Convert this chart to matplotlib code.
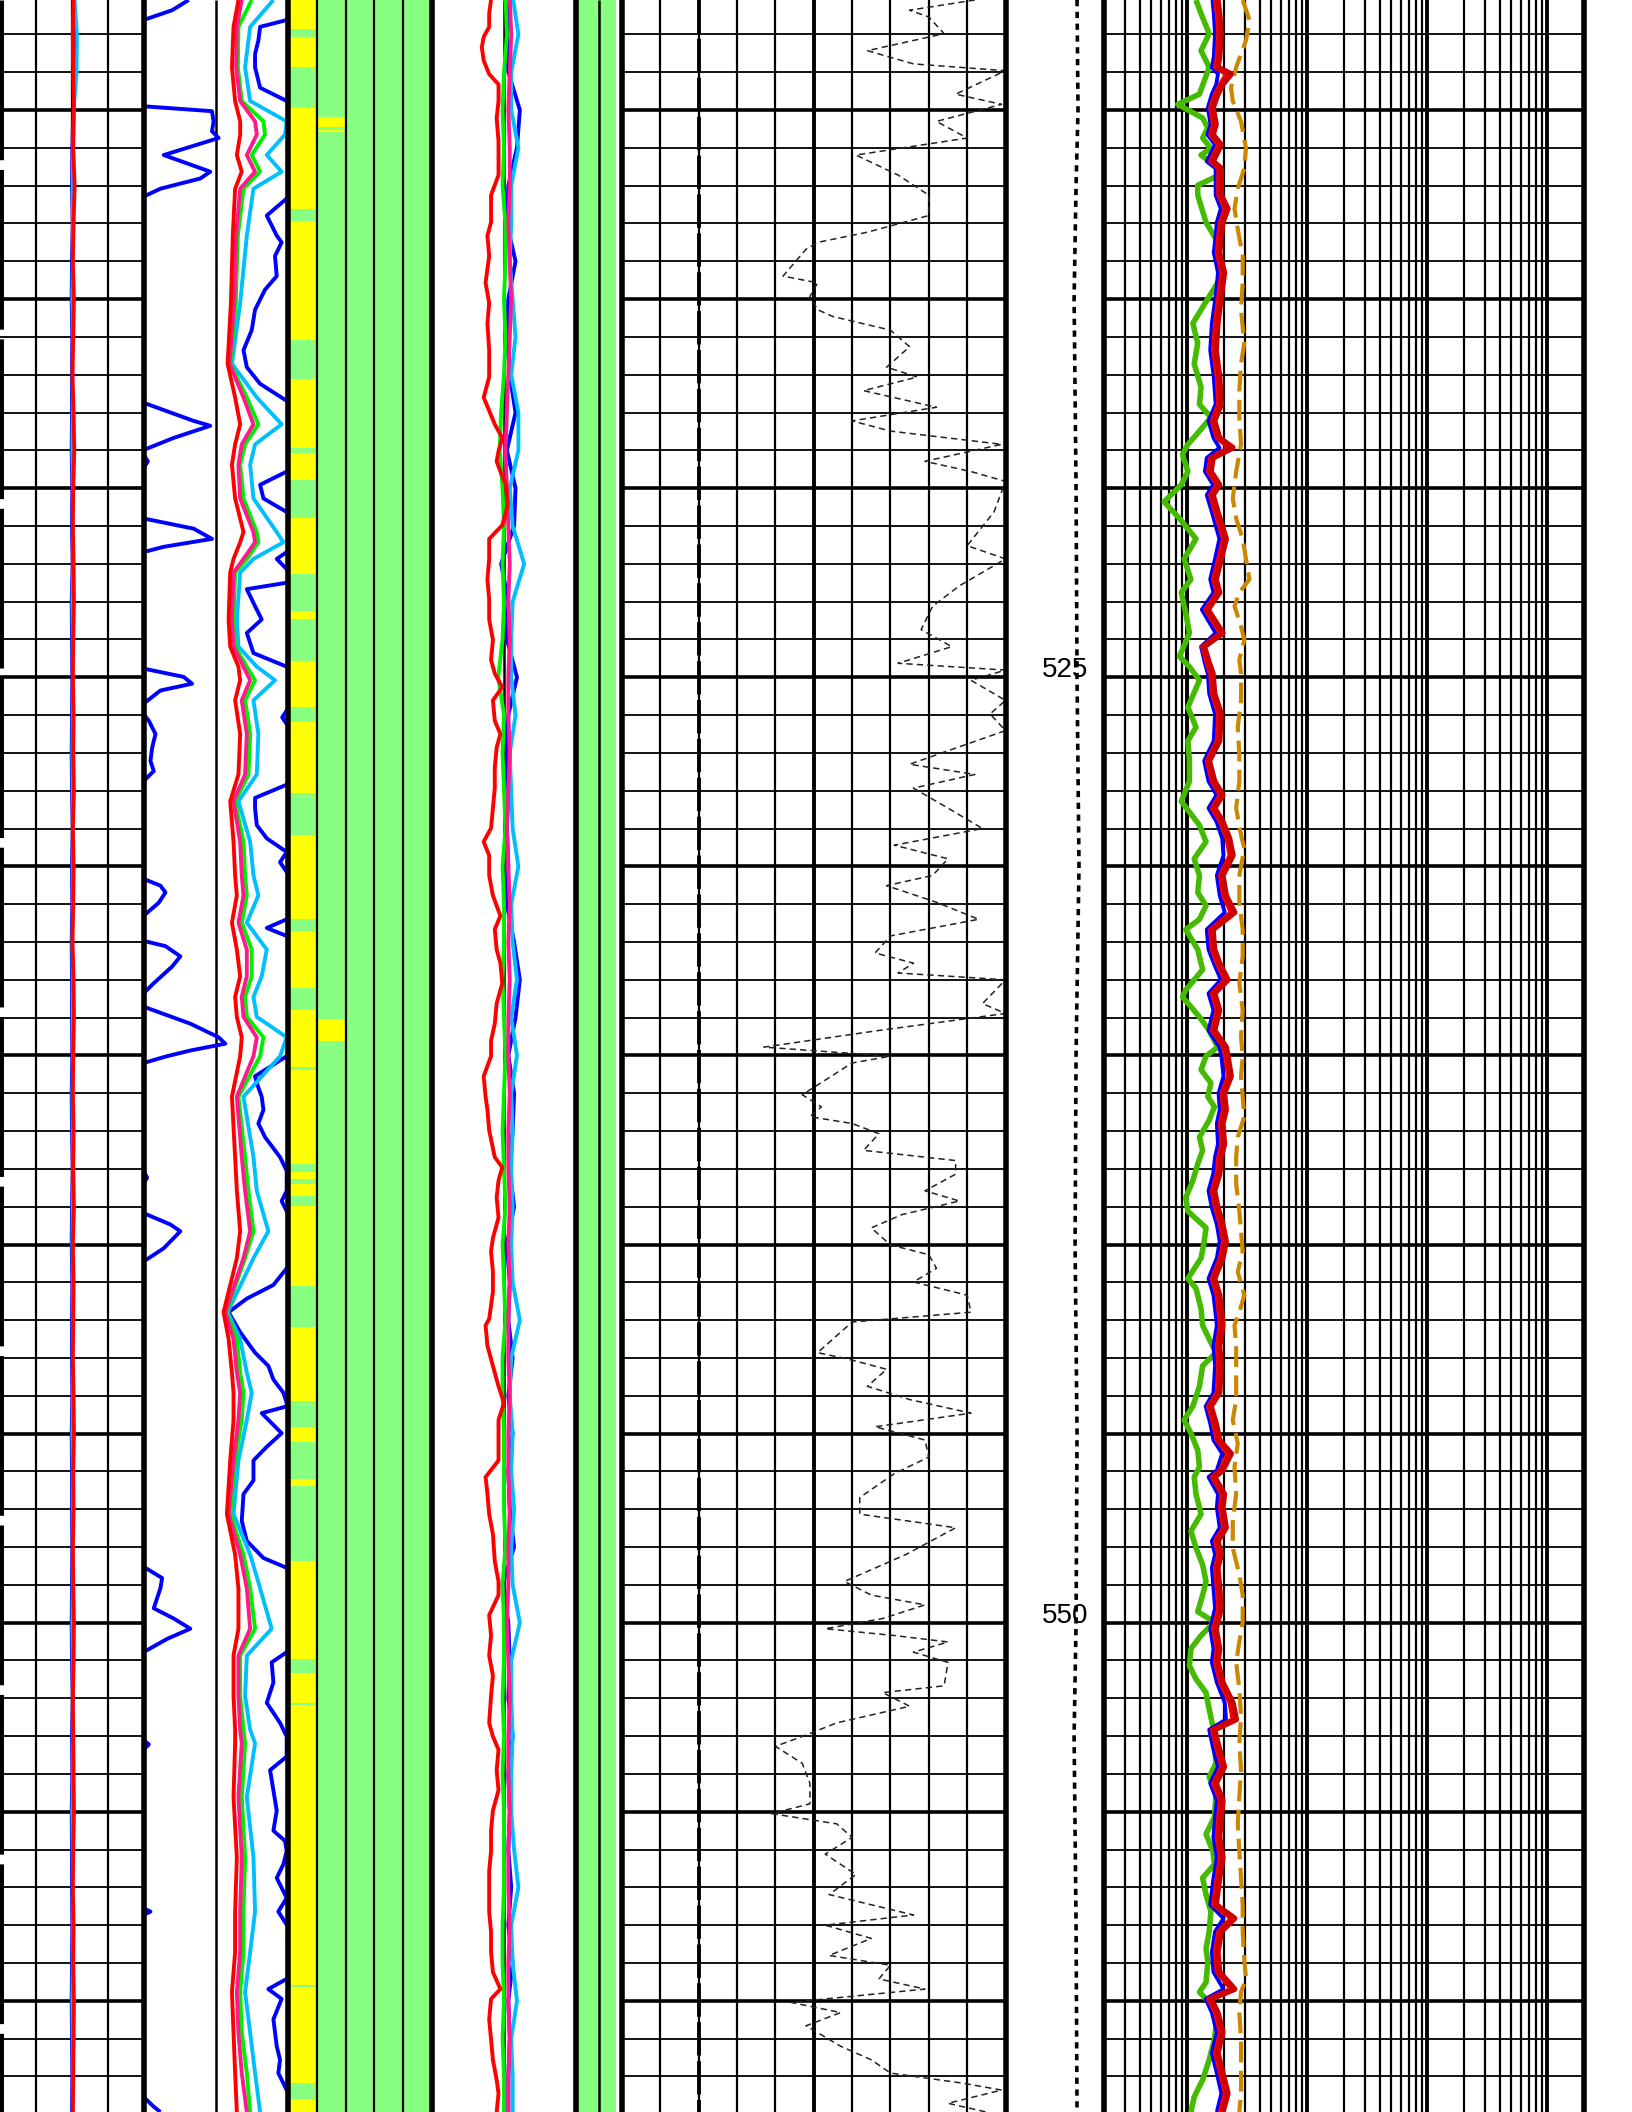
import numpy as np
import matplotlib
matplotlib.use("Agg")
import matplotlib.pyplot as plt

plt.rcParams['font.family'] = ['Liberation Sans', 'DejaVu Sans']
plt.rcParams['lines.scale_dashes'] = False
plt.rcParams['lines.solid_capstyle'] = 'butt'

FIG_W, FIG_H = 1632, 2112
DEPTH_TOP, DEPTH_BOT = 507.09, 562.94
depth_labels = [525, 550]

# ---------------- regular sampling grid (1 unit) ----------------
grid1 = np.arange(507.0, 563.5, 1.0)

# ---------------- Track 1 (0-4) ----------------
t1_red = [2.05,2.03,2.04,2.06,2.04,2.08,2.05,2.03,2.06,2.04,2.02,2.05,2.07,2.04,2.03,2.05,2.06,2.04,2.03,2.05,
          2.04,2.06,2.03,2.05,2.04,2.02,2.05,2.06,2.04,2.03,2.05,2.04,2.06,2.03,2.05,2.04,2.03,2.05,2.06,2.04,
          2.05,2.03,2.04,2.06,2.05,2.03,2.04,2.05,2.06,2.04,2.03,2.05,2.04,2.06,2.05,2.04,2.03]
t1_blue = [2.06,2.12,2.10,2.03,2.01,2.00,2.02,2.00,1.99,2.01,2.00,2.00,1.99,2.01,2.00,2.02,1.99,2.00,2.01,2.00,
           1.99,2.00,2.02,2.00,2.01,1.99,2.00,2.00,2.01,1.99,2.00,2.02,2.00,1.99,2.01,2.00,2.00,2.01,1.99,2.00,
           2.00,2.01,2.00,1.99,2.00,2.02,2.00,2.01,1.99,2.00,2.00,2.01,2.00,1.99,2.00,2.01,2.00]
t1_cyan = [2.08,2.15,2.14,2.06,2.03,2.02,2.03,2.02,2.01,2.03,2.02,2.02,2.01,2.03,2.02,2.04,2.01,2.02,2.03,2.02,
           2.01,2.02,2.04,2.02,2.03,2.01,2.02,2.02,2.03,2.01,2.02,2.04,2.02,2.01,2.03,2.02,2.02,2.03,2.01,2.02,
           2.02,2.03,2.02,2.01,2.02,2.04,2.02,2.03,2.01,2.02,2.02,2.03,2.02,2.01,2.02,2.03,2.02]

# ---------------- Track 2 (0-10) ----------------
t2_spike_depth = [507.09,507.36,507.62,509.90,510.03,510.30,510.56,510.74,511.19,511.63,511.81,512.08,512.29,
                  517.74,518.22,518.35,518.67,518.99,519.11,519.29,519.47,520.80,521.07,521.34,521.55,521.69,
                  524.77,524.99,525.17,525.35,525.70,525.97,526.15,526.50,526.86,527.21,527.48,527.75,
                  530.33,530.51,530.69,530.96,531.31,531.97,532.11,532.38,532.65,533.09,533.36,
                  533.71,534.16,534.52,534.69,534.87,535.02,535.20,538.05,538.23,538.40,
                  539.17,539.47,539.65,540.10,540.45,548.52,548.82,549.09,549.62,549.89,550.16,550.43,550.78,
                  553.10,553.22,553.36,557.55,557.64,557.73,562.54,562.80,562.94]
t2_spike_val = [3.13,1.98,0.0,0.0,4.74,4.85,4.74,5.20,1.40,4.62,3.93,1.17,0.0,
                0.0,3.47,4.62,2.09,0.0,0.0,0.30,0.0,0.0,3.47,4.74,1.40,0.0,
                0.0,2.78,3.36,1.17,0.0,0.0,0.37,0.83,0.60,0.48,0.71,0.0,
                0.0,1.17,1.52,1.06,0.0,0.0,1.52,2.55,1.98,0.71,0.0,
                0.0,3.24,5.20,5.66,3.24,1.63,0.0,0.0,0.25,0.0,
                0.0,1.86,2.55,1.40,0.0,0.0,1.29,1.17,0.71,2.09,3.24,1.63,0.0,
                0.0,0.37,0.0,0.0,0.48,0.0,0.0,0.71,1.17]

t2_depth = [507.09,507.80,508.87,509.76,510.30,510.65,511.19,511.63,512.08,513.32,515.10,516.71,517.60,518.31,
            518.84,519.38,520.27,521.16,521.43,521.87,522.23,523.47,524.19,524.72,525.08,525.61,526.50,527.57,
            528.28,529.35,530.24,530.77,531.49,532.20,532.91,533.45,533.98,534.52,535.02,
            536.09,537.69,538.58,539.65,540.36,541.79,542.50,543.39,543.92,544.64,545.71,547.13,548.20,549.09,
            550.16,550.87,551.94,552.83,553.19,554.61,556.21,557.64,558.71,559.77,560.84,561.91,562.94]
t2_red = [6.57,6.23,6.12,6.34,6.69,6.69,6.46,6.80,6.34,6.18,6.05,5.82,6.34,6.69,6.34,6.12,6.34,6.92,6.69,6.23,
          6.00,5.89,6.00,6.57,6.69,6.34,6.69,6.57,6.00,6.23,6.34,6.46,6.12,6.46,6.69,6.34,6.46,6.80,6.69,
          6.12,6.34,6.46,6.69,6.46,5.54,5.89,6.12,6.23,6.23,6.00,5.77,6.34,6.57,6.57,6.23,6.23,6.34,6.34,6.23,
          6.46,6.34,6.34,6.12,6.23,6.34,6.46]
t2_pink = [6.80,6.46,6.41,6.69,7.72,7.84,7.15,7.72,6.69,6.41,6.28,5.95,6.92,7.61,6.80,6.57,6.69,7.61,7.72,6.92,
           6.23,6.12,6.23,6.92,7.38,6.80,7.15,7.03,6.23,6.69,6.80,6.92,6.57,7.15,7.15,6.80,6.92,7.84,7.61,
           6.46,6.80,7.03,7.38,6.92,5.66,6.23,6.46,6.69,6.57,6.23,5.89,6.69,7.15,7.38,6.57,6.57,6.69,6.80,6.57,
           6.80,6.69,6.69,6.46,6.57,6.80,7.15]
t2_green = [7.49,6.57,6.53,6.80,8.30,8.41,7.49,8.07,6.92,6.53,6.39,6.00,7.15,7.95,7.03,6.69,6.92,7.84,7.95,7.15,
            6.34,6.23,6.34,7.15,7.72,7.03,7.38,7.26,6.34,6.92,7.03,7.15,6.80,7.49,7.49,7.03,7.15,8.30,8.07,
            6.57,7.03,7.26,7.61,7.03,5.72,6.46,6.69,6.92,6.80,6.34,6.00,6.92,7.38,7.72,6.69,6.69,6.92,7.03,6.80,
            7.03,6.92,6.92,6.69,6.80,7.15,7.38]
t2_cyan = [8.99,7.38,7.03,7.38,9.91,9.79,8.53,9.56,7.61,7.15,6.69,6.12,7.84,9.56,7.72,7.38,7.61,9.22,9.68,7.61,
           6.69,6.46,6.57,7.84,9.10,7.61,7.95,7.84,6.57,7.38,7.61,7.95,7.15,8.53,8.18,7.61,7.84,9.91,9.45,
           6.92,7.61,7.84,8.64,7.61,5.82,6.69,7.15,7.49,7.15,6.57,6.23,7.38,8.07,8.87,7.15,7.03,7.38,7.72,7.15,
           7.61,7.72,7.38,7.03,7.38,7.72,8.07]

t2_blue_depth = [507.09,507.62,507.80,508.16,508.52,508.87,509.41,509.76,509.90,512.25,512.34,512.79,513.32,513.50,
                 513.86,514.39,514.75,515.28,515.82,516.35,516.80,517.24,517.69,517.80,519.45,519.56,519.91,520.27,
                 520.63,520.75,521.60,521.69,521.87,522.14,522.30,522.40,522.50,522.67,523.12,523.47,523.83,524.36,
                 524.72,524.85,525.80,525.88,526.06,526.24,526.35,527.75,527.84,528.19,528.46,528.91,529.26,529.62,
                 529.89,530.15,530.25,531.30,531.40,531.63,531.84,531.95,534.90,535.02,535.55,535.73,536.09,536.44,
                 536.80,537.16,537.69,538.05,538.58,538.85,539.12,539.25,540.50,540.63,541.07,541.43,541.79,542.32,
                 542.86,543.21,543.57,543.92,544.19,544.28,544.46,544.99,545.35,545.71,546.24,546.60,547.31,547.84,
                 548.29,548.55,548.65,550.70,550.78,551.05,551.58,552.12,552.65,553.01,553.54,553.90,554.43,554.97,
                 555.50,555.77,556.04,556.39,556.75,557.28,557.64,557.99,558.10,559.30,559.42,559.69,559.95,560.49,
                 560.84,561.20,561.56,561.91,562.36,562.50,562.94]
t2_blue_val = [10.4,9.91,8.07,7.95,7.72,7.72,8.07,9.91,10.4,10.4,9.91,8.53,9.22,9.56,
               9.10,9.22,8.41,7.72,7.49,6.92,7.15,8.07,9.91,10.4,10.4,9.91,8.07,8.30,
               9.91,10.4,10.4,9.91,9.22,9.91,10.4,10.4,9.91,7.15,7.72,8.18,7.15,7.61,
               9.91,10.4,10.4,9.91,9.60,9.91,10.4,10.4,9.91,7.72,7.72,7.84,8.53,9.91,
               9.45,9.91,10.4,10.4,9.91,8.53,9.91,10.4,10.4,9.91,7.72,7.84,8.18,8.30,
               7.95,8.41,9.45,9.91,9.91,9.56,9.91,10.4,10.4,9.91,8.99,7.15,5.89,6.69,
               7.72,8.64,8.99,9.68,9.91,9.91,8.18,9.56,8.53,7.61,7.61,6.92,6.80,7.15,
               8.30,9.91,10.4,10.4,9.91,8.87,8.99,8.53,9.45,9.91,9.91,8.76,8.99,9.22,
               8.99,9.79,9.91,9.68,9.22,9.91,9.33,9.91,10.4,10.4,9.91,8.64,9.56,8.99,
               9.10,9.22,9.45,9.33,9.91,10.4,10.4]

# ---------------- Track 3 lithology (5 columns) ----------------
lith_col1_top = [507.09,508.07,509.94,512.93,517.10,519.08,520.80,523.26,524.58,526.18,529.17,531.70,533.80,
                 535.38,538.08,538.40,538.97,542.18,544.82,546.20,548.38,551.32,552.18,559.63,562.59]
lith_col1_base = [507.86,508.87,512.61,516.08,518.93,519.79,522.26,523.47,525.79,528.07,531.40,533.23,535.30,
                  537.87,538.28,538.71,541.11,544.14,545.22,546.38,550.96,552.12,559.57,562.18,562.94]
lith_col2_top = [510.18,510.52,534.04]
lith_col2_base = [510.45,510.58,534.62]

# ---------------- Track 4 (0-10) ----------------
t4_red_depth = [507.09,507.45,507.80,508.07,508.34,508.69,509.05,509.32,509.76,510.21,510.83,511.19,511.72,512.25,
                512.97,513.32,513.86,514.57,515.10,515.64,516.35,517.06,517.60,517.95,518.31,518.67,519.02,519.29,
                519.56,519.91,520.45,520.98,521.34,521.87,522.41,522.94,523.47,524.01,524.54,524.90,525.26,525.61,
                526.15,526.50,526.86,527.39,527.93,528.46,528.99,529.35,529.71,530.24,530.77,531.31,531.67,532.20,
                532.56,533.09,533.63,534.16,534.61,
                535.02,535.55,536.09,536.44,536.98,537.69,537.96,538.31,538.76,539.29,539.83,540.18,540.72,541.25,
                541.97,542.14,542.68,543.21,543.75,544.19,544.64,545.17,545.71,546.15,546.60,547.13,547.66,548.38,
                548.91,549.27,549.80,550.34,550.87,551.40,551.94,552.65,553.01,553.36,553.90,554.43,554.97,555.50,
                556.04,556.57,557.10,557.64,558.17,558.71,559.24,559.69,559.95,560.49,561.02,561.56,562.09,562.45,
                562.94]
t4_red = [4.10,3.97,3.97,3.59,3.46,3.59,3.97,4.62,4.62,4.49,4.62,4.62,4.62,4.10,
          4.10,3.85,3.97,3.72,3.97,3.85,3.97,3.97,3.59,3.97,4.36,4.88,4.62,4.49,
          4.75,5.13,5.26,4.88,3.97,3.97,3.85,3.97,3.97,4.23,4.10,4.36,4.88,4.23,
          4.36,4.75,4.49,4.36,4.36,4.23,4.10,3.59,3.97,3.97,4.23,4.75,4.36,4.49,
          4.75,4.88,4.49,4.36,4.10,
          4.10,3.59,3.72,3.85,3.97,4.36,4.88,4.62,4.49,4.62,4.23,4.10,4.23,4.23,
          3.97,3.72,3.85,4.23,4.62,5.00,4.62,4.62,4.62,3.72,3.85,3.97,4.23,4.36,
          4.62,4.62,3.97,4.10,3.97,4.23,4.10,3.97,4.23,4.62,4.49,4.62,4.23,4.10,
          4.10,3.97,3.97,3.97,4.10,4.10,4.23,4.75,4.10,3.97,4.10,4.23,4.49,4.62,
          4.49]
t4_green = [5.1,5.2,5.0,4.9,5.0,4.9,5.1,5.1,5.0,5.1,5.0,4.8,4.7,4.9,5.0,4.9,5.0,4.9,4.6,5.0,
            4.9,5.0,5.1,4.9,5.0,5.0,4.9,5.0,5.1,5.0,4.9,5.0,5.1,4.9,5.0,5.1,4.9,4.9,5.0,5.0,
            5.0,5.1,4.9,5.0,5.0,4.9,5.0,4.9,5.0,5.0,5.0,4.9,4.9,5.0,4.9,5.0,5.0]
t4_pink = [5.4,5.5,5.4,5.3,5.4,5.4,5.3,5.4,5.5,5.4,5.3,5.2,5.1,5.2,5.3,5.4,5.3,5.4,5.3,5.3,
           5.4,5.3,5.2,5.3,5.4,5.3,5.4,5.3,5.3,5.4,5.3,5.3,5.4,5.3,5.4,5.3,5.3,5.4,5.3,5.3,
           5.4,5.3,5.3,5.2,5.3,5.4,5.3,5.3,5.4,5.3,5.3,5.4,5.3,5.3,5.4,5.3,5.3]
t4_cyan = [5.6,6.0,5.5,5.5,6.0,5.5,5.5,5.4,5.6,5.8,5.5,6.0,6.0,5.4,5.6,6.4,5.6,5.5,5.5,5.8,
           5.4,5.5,5.6,6.0,5.5,5.6,5.9,5.5,5.9,5.5,5.6,5.5,5.6,5.5,5.6,6.1,5.5,5.4,5.6,5.5,
           5.7,5.5,5.6,6.1,5.5,5.5,5.6,5.5,5.5,5.7,6.0,5.5,5.6,5.9,5.5,5.6,5.6]
t4_blue = [5.4,5.2,5.3,6.1,5.9,5.3,5.2,5.8,5.3,5.2,5.4,5.8,5.2,5.8,5.7,4.8,5.3,5.2,5.9,5.3,
           5.2,5.3,5.2,5.3,5.2,5.7,6.1,5.8,5.3,5.7,5.6,5.4,5.7,5.2,5.4,5.3,5.6,5.3,5.6,5.3,
           5.4,5.7,4.9,5.3,5.4,5.3,5.6,5.3,5.4,5.3,5.5,5.3,5.6,5.3,5.4,5.3,5.3]

# ---------------- Track 5 (fill fraction) ----------------
t5_depth = [507.09, 562.94]
t5_val = [0.87, 0.87]

# ---------------- Track 6 (0-10) ----------------
t6_const_depth = [507.09, 562.94]
t6_const_val = [2.0, 2.0]
t6_depth = [507.09,507.36,507.54,507.98,508.43,508.78,508.96,509.58,509.85,510.30,510.74,511.19,511.72,512.25,
            512.79,513.23,513.50,513.68,514.39,514.57,514.93,515.28,515.46,515.82,516.26,516.80,517.06,517.42,
            517.86,518.22,518.49,518.84,519.29,519.56,519.82,520.63,521.52,521.87,522.58,523.12,523.74,524.19,
            524.63,524.81,525.08,525.61,525.97,526.41,527.30,527.57,527.93,528.46,529.00,529.44,529.80,530.24,
            530.51,530.95,531.40,531.84,532.29,532.56,532.82,533.00,533.63,533.89,534.34,534.78,
            535.02,535.20,536.04,536.36,536.62,536.80,537.07,537.51,537.78,538.14,538.58,538.85,539.21,539.56,
            540.01,540.27,540.63,540.99,541.34,541.79,542.05,542.86,543.03,543.30,543.75,544.10,544.46,544.82,
            545.17,545.62,546.06,546.69,547.13,547.49,548.20,548.91,549.27,549.53,549.89,550.16,550.34,550.51,
            550.78,551.05,551.67,551.85,552.21,552.65,553.01,553.27,553.72,554.25,554.79,555.05,555.32,555.68,
            556.12,556.66,557.19,557.73,558.00,558.35,558.80,559.06,559.42,559.69,560.04,560.31,560.66,561.20,
            561.56,561.91,562.18,562.36,562.71,562.94]
t6_val = [9.2,7.5,8.0,8.4,6.4,7.6,10.0,8.7,9.9,8.2,9.0,6.1,7.2,8.0,
          8.0,6.4,5.1,4.8,4.2,5.1,4.9,5.1,5.5,7.0,7.5,6.9,7.7,6.3,
          8.2,6.0,7.0,9.9,7.9,9.1,10.0,9.7,9.0,10.0,8.8,8.1,7.8,8.6,
          7.2,10.0,9.1,10.0,9.6,10.0,7.5,9.2,7.6,8.5,9.4,7.1,8.5,8.1,
          6.9,8.2,9.3,7.0,6.6,7.6,7.2,10.0,9.4,10.0,6.7,3.7,
          7.0,6.0,4.7,5.2,4.9,6.0,6.7,6.3,8.7,8.7,7.9,8.8,7.3,6.5,
          7.0,8.0,8.2,7.6,9.0,9.1,6.0,5.1,5.9,6.9,6.4,7.5,9.1,6.6,
          7.9,8.0,7.1,6.2,6.2,8.7,7.4,5.8,6.5,7.9,6.8,5.3,7.1,8.5,
          7.6,8.5,8.4,6.8,7.5,5.6,4.7,4.0,4.7,4.9,4.9,3.9,5.6,6.0,
          5.3,6.1,5.4,7.6,5.3,6.5,5.4,7.0,6.7,7.9,4.4,5.7,4.8,5.7,
          6.5,7.0,8.9,9.9,8.5,9.5]

# ---------------- Depth track dotted curve (0-1) ----------------
dtrk_depth = [507.09,510.0,512.0,515.0,520.0,525.0,530.0,535.0,540.0,545.0,550.0,553.0,558.0,562.94]
dtrk_val = [0.73,0.74,0.72,0.70,0.72,0.73,0.75,0.72,0.71,0.73,0.72,0.70,0.72,0.73]

# ---------------- Track 7 (log 0.2-2000) ----------------
t7_green_depth = [507.09,507.45,507.98,508.43,508.87,509.58,509.85,510.21,510.47,510.74,511.01,511.19,511.45,511.72,
                  511.99,512.25,512.97,513.41,513.86,514.30,514.57,514.93,515.64,516.17,516.71,517.33,517.78,518.13,
                  518.49,518.84,519.11,519.56,519.91,520.36,520.80,521.34,521.87,522.41,522.76,523.30,523.83,524.45,
                  524.72,525.08,525.79,526.32,526.68,527.21,527.75,528.28,528.91,529.35,529.80,530.24,530.69,531.04,
                  531.40,531.67,532.20,532.73,533.27,533.45,533.98,534.34,534.78,
                  535.02,535.38,535.73,536.09,536.36,536.71,537.16,537.51,537.87,538.31,538.76,539.12,539.56,539.92,
                  540.36,540.90,541.16,541.70,542.14,542.50,542.86,543.21,543.75,544.28,544.64,544.99,545.44,545.88,
                  546.15,546.60,547.13,547.58,548.02,548.47,548.91,549.27,549.71,549.98,550.34,550.69,551.14,551.49,
                  551.85,552.29,552.74,553.19,553.72,554.08,554.52,555.14,555.59,556.04,556.39,556.75,557.19,557.64,
                  558.17,558.62,558.97,559.51,559.77,560.13,560.66,561.02,561.56,562.09,562.54,562.94]
t7_green = [1.18,1.30,1.52,1.30,1.52,1.26,0.83,1.34,1.48,1.34,1.57,1.30,1.68,1.85,
            1.22,1.22,1.43,1.73,1.79,1.97,1.79,1.52,1.11,1.22,1.14,1.30,1.26,1.57,
            1.26,1.01,0.91,1.01,0.89,0.64,0.86,1.18,0.94,1.07,0.89,0.97,1.04,0.86,
            1.04,1.26,1.01,1.18,1.01,1.04,1.04,0.89,1.26,1.43,1.14,1.26,1.22,1.43,
            1.26,0.97,1.22,1.34,0.97,0.91,1.26,1.52,1.79,
            1.43,1.30,1.57,1.48,1.68,1.52,1.26,1.34,1.22,1.11,0.97,1.01,1.43,1.38,
            1.30,1.01,1.18,1.30,1.34,1.52,1.73,1.34,1.26,1.11,0.94,1.07,1.22,1.26,
            1.14,1.18,1.30,1.07,1.18,1.34,1.43,1.34,1.22,1.68,1.30,1.07,1.04,1.18,
            1.43,1.52,1.63,1.68,1.73,1.52,1.73,1.68,1.43,1.63,1.68,1.34,1.43,1.57,
            1.52,1.43,1.48,1.43,1.26,1.63,1.73,1.68,1.52,1.34,1.14,1.07]

t7_res_depth = [507.09,507.45,507.98,508.60,508.87,509.05,509.32,509.58,509.94,510.38,510.65,510.92,511.36,511.54,
                512.25,512.61,512.97,513.32,513.77,514.30,514.93,515.64,516.35,517.06,517.78,518.22,518.67,518.93,
                519.20,519.56,519.91,520.18,520.63,521.34,521.87,522.41,522.76,523.21,523.83,524.19,524.63,524.90,
                525.43,525.97,526.68,527.21,527.75,528.11,528.46,528.82,529.26,529.71,530.24,530.77,531.22,531.67,
                532.20,532.56,533.00,533.36,533.80,534.34,534.78,
                535.02,535.55,536.00,536.44,536.80,537.34,537.69,538.14,538.58,539.03,539.47,539.92,540.36,540.90,
                541.34,541.70,542.14,542.68,543.21,543.92,544.28,544.73,545.17,545.53,545.97,546.15,546.60,546.95,
                547.49,547.84,548.20,548.55,549.09,549.62,550.16,550.69,551.05,551.58,552.12,552.56,552.83,553.36,
                553.81,554.25,554.70,555.14,555.68,556.21,556.75,557.46,557.82,558.17,558.71,559.24,559.69,559.95,
                560.31,560.84,561.38,561.91,562.45,562.94]
t7_deep = [1.79,1.85,1.91,1.85,1.79,2.31,1.97,1.79,1.63,1.73,1.63,1.91,1.63,1.91,
           1.91,2.17,1.97,1.91,1.85,2.03,1.91,1.79,1.73,1.85,1.91,1.68,1.85,2.39,
           1.63,1.57,1.85,1.63,1.79,2.10,1.91,1.73,1.85,1.48,1.97,1.38,1.52,1.63,
           1.68,1.91,1.85,1.52,1.68,1.97,1.68,1.97,2.24,2.39,1.97,2.10,2.47,1.63,
           1.68,1.85,2.17,1.68,1.85,1.68,2.10,
           2.17,2.31,2.03,2.10,1.97,2.03,1.91,1.85,1.68,1.79,1.97,2.10,1.97,1.68,
           1.85,1.91,1.97,1.85,1.91,1.85,1.57,1.73,1.85,2.31,1.97,1.68,2.03,1.97,
           2.10,1.79,1.91,1.79,1.85,1.91,1.73,1.85,1.79,1.97,2.39,2.55,1.68,1.85,
           2.03,1.73,1.97,1.91,1.85,1.97,1.85,1.73,2.47,1.91,1.79,1.85,2.47,1.57,
           1.79,1.97,1.79,1.97,2.17,1.97]
t7_medium = [1.70,1.76,1.81,1.76,1.70,2.10,1.87,1.70,1.55,1.64,1.55,1.81,1.55,1.81,
             1.81,2.05,1.87,1.81,1.76,1.92,1.81,1.70,1.64,1.76,1.81,1.60,1.76,2.20,
             1.55,1.49,1.76,1.55,1.70,1.99,1.81,1.64,1.76,1.41,1.87,1.33,1.45,1.55,
             1.60,1.81,1.76,1.45,1.60,1.87,1.60,1.87,2.12,2.25,1.87,1.99,2.30,1.55,
             1.60,1.76,2.05,1.60,1.76,1.60,1.99,
             2.06,2.18,1.93,1.99,1.87,1.93,1.81,1.76,1.60,1.70,1.87,1.99,1.87,1.60,
             1.76,1.81,1.87,1.76,1.81,1.76,1.49,1.64,1.76,2.15,1.87,1.60,1.93,1.87,
             1.99,1.70,1.81,1.70,1.76,1.81,1.64,1.76,1.70,1.87,2.25,2.38,1.60,1.76,
             1.93,1.64,1.87,1.81,1.76,1.87,1.76,1.64,2.30,1.81,1.70,1.76,2.30,1.49,
             1.70,1.87,1.70,1.87,2.06,1.87]
t7_shallow = [1.62,1.66,1.70,1.66,1.60,1.80,1.74,1.60,1.48,1.56,1.47,1.70,1.45,1.72,
              1.72,1.90,1.76,1.72,1.66,1.80,1.72,1.60,1.55,1.66,1.72,1.50,1.65,1.85,
              1.45,1.40,1.64,1.45,1.60,1.85,1.70,1.55,1.65,1.32,1.72,1.30,1.40,1.48,
              1.52,1.70,1.66,1.38,1.50,1.75,1.50,1.75,1.95,2.00,1.76,1.86,2.05,1.45,
              1.50,1.66,1.90,1.50,1.65,1.50,1.85,
              1.92,2.00,1.82,1.86,1.76,1.80,1.70,1.64,1.50,1.60,1.76,1.86,1.76,1.50,
              1.65,1.70,1.76,1.65,1.70,1.65,1.42,1.55,1.65,1.95,1.76,1.50,1.80,1.76,
              1.86,1.60,1.70,1.60,1.65,1.70,1.55,1.65,1.60,1.76,2.05,2.10,1.52,1.65,
              1.80,1.55,1.76,1.70,1.65,1.76,1.65,1.55,2.00,1.70,1.60,1.65,2.00,1.42,
              1.60,1.76,1.60,1.76,1.92,1.76]

t7_orange_depth = [507.09,507.62,508.16,508.87,509.41,509.76,510.30,511.01,511.54,512.08,512.61,513.15,513.86,514.57,
                   515.28,516.17,516.71,517.42,518.13,518.84,519.56,520.27,520.80,521.34,521.87,522.41,522.76,523.12,
                   523.65,524.01,524.54,524.90,525.61,526.32,527.04,527.75,528.46,529.17,529.53,530.24,530.95,531.67,
                   532.38,533.09,533.80,534.52,
                   535.02,535.55,536.09,536.62,537.16,537.69,538.40,539.12,539.65,540.18,540.72,541.34,541.79,542.14,
                   542.68,543.57,544.10,544.64,545.26,545.88,546.60,547.31,548.02,548.73,549.27,549.98,550.51,551.05,
                   551.76,552.47,553.19,553.90,554.61,555.32,556.04,556.75,557.46,558.17,558.89,559.42,559.77,560.31,
                   561.02,561.73,562.45,562.94]
t7_orange = [2.89,3.29,3.08,2.55,2.31,2.39,2.80,3.08,2.98,2.63,2.47,2.63,2.89,2.89,
             2.80,2.98,2.80,2.71,2.71,2.80,2.55,2.39,2.55,2.89,3.08,3.29,2.71,2.47,
             2.80,2.98,2.71,2.80,2.80,2.63,2.71,2.71,2.55,2.80,2.98,2.71,2.71,2.89,
             2.89,2.71,2.89,2.80,
             2.89,2.80,2.89,2.98,2.63,2.55,2.55,2.71,2.80,2.89,2.63,2.98,2.71,2.47,
             2.55,2.55,2.55,2.39,2.63,2.47,2.55,2.39,2.39,2.71,2.89,2.89,2.71,2.55,
             2.71,2.80,2.71,2.80,2.71,2.63,2.71,2.80,2.89,2.89,2.98,3.08,2.80,2.71,
             2.80,2.80,2.80,2.71]

# ---------------- styling ----------------
GREEN_FILL = '#88ff80'
YELLOW = '#ffff00'
C_RED = '#ff0000'
C_PINK = '#ff1a8c'
C_GREEN = '#00ee00'
C_CYAN = '#00bfff'
C_BLUE = '#0000ff'
LW_CURVE = 2.8

fig = plt.figure(figsize=(FIG_W / 100, FIG_H / 100), dpi=100)

def track(x0, x1, xlim, log=False):
    ax = fig.add_axes([x0 / FIG_W, 0, (x1 - x0) / FIG_W, 1])
    if log:
        ax.set_xscale('log')
    ax.set_xlim(*xlim)
    ax.set_ylim(DEPTH_BOT, DEPTH_TOP)
    ax.axis('off')
    return ax

def hgrid(ax):
    for d in range(508, 563):
        ax.axhline(d, color='black', lw=2.6 if d % 5 == 0 else 1.3, zorder=1)

# Track boundaries in pixels
B = [0, 143.5, 288, 432, 576, 622, 1005.5, 1103.5, 1583.5]

# --- Track 1
ax1 = track(B[0], B[1], (0, 4))
hgrid(ax1)
for v in (1, 2, 3):
    ax1.axvline(v, color='black', lw=1.6, zorder=1)
ax1.plot(t1_blue, grid1, color=C_BLUE, lw=2.4, zorder=3)
ax1.plot(t1_cyan, grid1, color=C_CYAN, lw=2.4, zorder=3)
ax1.plot(t1_red, grid1, color=C_RED, lw=LW_CURVE, zorder=4)

# --- Track 2
ax2 = track(B[1], B[2], (0, 10))
ax2.axvline(5, color='black', lw=1.8, zorder=1)
ax2.plot(t2_spike_val, t2_spike_depth, color=C_BLUE, lw=LW_CURVE, zorder=3)
ax2.plot(t2_blue_val, t2_blue_depth, color=C_BLUE, lw=LW_CURVE, zorder=3)
ax2.plot(t2_cyan, t2_depth, color=C_CYAN, lw=LW_CURVE, zorder=3)
ax2.plot(t2_green, t2_depth, color=C_GREEN, lw=LW_CURVE, zorder=3)
ax2.plot(t2_pink, t2_depth, color=C_PINK, lw=LW_CURVE, zorder=3)
ax2.plot(t2_red, t2_depth, color=C_RED, lw=LW_CURVE, zorder=3)

# --- Track 3 lithology
ax3 = track(B[2], B[3], (0, 5))
ax3.axvspan(0, 5, color=GREEN_FILL, lw=0, zorder=0)
ax3.barh([(a + b) / 2 for a, b in zip(lith_col1_top, lith_col1_base)],
         1, height=[b - a for a, b in zip(lith_col1_top, lith_col1_base)],
         left=0, color=YELLOW, lw=0, zorder=1)
ax3.barh([(a + b) / 2 for a, b in zip(lith_col2_top, lith_col2_base)],
         1, height=[b - a for a, b in zip(lith_col2_top, lith_col2_base)],
         left=1, color=YELLOW, lw=0, zorder=1)
for v in (1, 2, 3, 4):
    ax3.axvline(v, color='black', lw=1.6, zorder=2)

# --- Track 4
ax4 = track(B[3], B[4], (0, 10))
ax4.axvline(5, color='black', lw=1.8, zorder=1)
ax4.plot(t4_blue, grid1, color=C_BLUE, lw=LW_CURVE, zorder=3)
ax4.plot(t4_cyan, grid1, color=C_CYAN, lw=LW_CURVE, zorder=3)
ax4.plot(t4_green, grid1, color=C_GREEN, lw=LW_CURVE, zorder=3)
ax4.plot(t4_pink, grid1, color=C_PINK, lw=LW_CURVE, zorder=3)
ax4.plot(t4_red, t4_red_depth, color=C_RED, lw=LW_CURVE, zorder=4)

# --- Track 5
ax5 = track(B[4], B[5], (0, 1))
ax5.fill_betweenx(t5_depth, 0, t5_val, color=GREEN_FILL, lw=0, zorder=0)
ax5.axvline(0.5, color='black', lw=1.8, zorder=1)

# --- Track 6
ax6 = track(B[5], B[6], (0, 10))
hgrid(ax6)
for v in range(1, 10):
    ax6.axvline(v, color='black', lw=2.8 if v == 5 else 1.6, zorder=1)
ax6.plot(t6_const_val, t6_const_depth, color='black', lw=2.8, dashes=(24, 4), zorder=2)
ax6.plot(t6_val, t6_depth, color='#222222', lw=1.1, dashes=(4.5, 3), zorder=3)

# --- Depth track
axd = track(B[6], B[7], (0, 1))
axd.plot(dtrk_val, dtrk_depth, color='black', lw=2.6, dashes=(4.5, 4), zorder=3)
for d in depth_labels:
    axd.text(0.607, d, str(d), ha='center', va='baseline', fontsize=20, zorder=2)

# --- Track 7 (log)
ax7 = track(B[7], B[8], (0.2, 2000), log=True)
hgrid(ax7)
for n in range(-1, 4):
    for k in range(1, 10):
        v = k * 10.0 ** n
        if 0.2 < v < 2000:
            ax7.axvline(v, color='black', lw=2.8 if k == 1 else 1.6, zorder=1)
ax7.plot(t7_orange, t7_orange_depth, color='#cc8800', lw=3.0, dashes=(15, 6), zorder=3)
ax7.plot(t7_green, t7_green_depth, color='#44bb00', lw=4.0, zorder=4)
ax7.plot(t7_shallow, t7_res_depth, color=C_BLUE, lw=2.8, zorder=4)
ax7.plot(t7_medium, t7_res_depth, color=C_RED, lw=3.0, zorder=5)
ax7.plot(t7_deep, t7_res_depth, color='#cc0000', lw=4.2, zorder=6)

# --- Borders overlay
ov = fig.add_axes([0, 0, 1, 1], zorder=10)
ov.set_xlim(0, FIG_W)
ov.set_ylim(DEPTH_BOT, DEPTH_TOP)
ov.axis('off')
for x in B[1:]:
    ov.axvline(x, color='black', lw=4.0)
ov.plot([0, 0], [DEPTH_TOP, DEPTH_BOT], color='black', lw=5, dashes=(115, 7))

fig.savefig('out.png', dpi=100)
